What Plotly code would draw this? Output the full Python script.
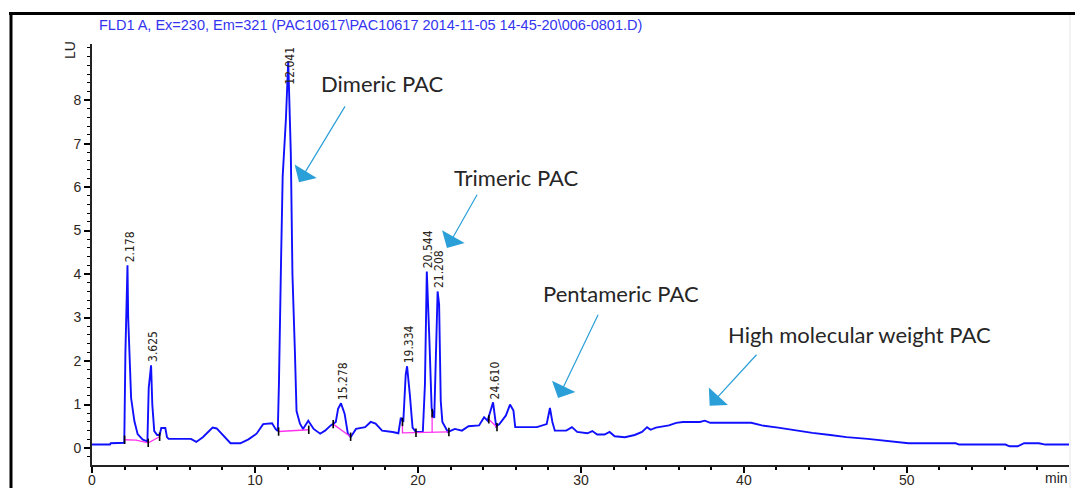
import plotly.graph_objects as go

# ---------------- data ----------------
time_min = [0, 1.1, 1.15, 1.98, 2.05, 2.178, 2.22, 2.3, 2.4, 2.6, 2.8, 3.1, 3.4, 3.48, 3.56, 3.625,
            3.7, 3.82, 4.0, 4.15, 4.25, 4.5, 4.6, 4.7, 6.07, 6.4, 6.8, 7.4, 7.65, 8.0, 8.5, 9.1,
            9.6, 10.1, 10.5, 11.05, 11.26, 11.4, 11.47, 11.6, 11.7, 11.9, 12.041, 12.2, 12.3,
            12.45, 12.55, 12.76, 12.95, 13.27, 13.6, 14.0, 14.3, 14.65, 14.96, 15.1, 15.278,
            15.5, 15.7, 15.87, 16.2, 16.76, 17.1, 17.4, 17.8, 18.45, 18.8, 18.95, 19.1, 19.25,
            19.334, 19.5, 19.67, 19.88, 20.3, 20.43, 20.5, 20.544, 20.7, 20.84, 21.0, 21.1,
            21.208, 21.3, 21.4, 21.5, 21.7, 21.84, 22.27, 22.7, 23.1, 23.75, 24.06, 24.27,
            24.45, 24.61, 24.8, 25.0, 25.4, 25.65, 25.86, 25.97, 27.3, 27.9, 28.1, 28.25, 28.4,
            29.1, 29.45, 29.77, 30.4, 30.7, 31.0, 31.45, 31.76, 32.07, 32.7, 33.3, 33.75, 34.06,
            34.27, 34.6, 35.4, 35.85, 36.26, 37.3, 37.6, 37.94, 40.45, 41.1, 42.1, 43.2, 44.2,
            45.3, 46.3, 47.6, 48.4, 49.2, 50.1, 53.0, 53.2, 56.05, 56.3, 56.8, 57.2, 58.1, 58.5,
            60.0]
signal_lu = [0.08, 0.08, 0.11, 0.12, 2.2, 4.2, 3.0, 2.0, 1.15, 0.62, 0.32, 0.2, 0.15, 1.38, 1.6, 1.9,
             1.0, 0.39, 0.3, 0.3, 0.46, 0.46, 0.25, 0.21, 0.21, 0.14, 0.25, 0.47, 0.45, 0.3, 0.11, 0.11,
             0.2, 0.33, 0.55, 0.57, 0.44, 0.39, 1.47, 4.29, 6.24, 7.57, 8.9, 6.77, 3.99,
             2.22, 0.85, 0.56, 0.44, 0.63, 0.44, 0.33, 0.4, 0.52, 0.6, 0.9, 1.03,
             0.79, 0.33, 0.25, 0.44, 0.48, 0.6, 0.56, 0.4, 0.37, 0.34, 0.7, 0.6, 1.69,
             1.88, 1.24, 0.47, 0.37, 0.37, 1.47, 3.21, 4.06, 2.52, 0.92, 0.69, 2.22,
             3.6, 3.3, 1.08, 0.6, 0.46, 0.37, 0.44, 0.4, 0.5, 0.52, 0.71, 0.63,
             0.85, 1.05, 0.5, 0.55, 0.75, 1.0, 0.86, 0.48, 0.48, 0.55, 0.92, 0.6, 0.4,
             0.4, 0.48, 0.37, 0.34, 0.39, 0.31, 0.31, 0.37, 0.27, 0.25, 0.3, 0.37, 0.48,
             0.42, 0.47, 0.52, 0.58, 0.6, 0.6, 0.63, 0.58, 0.58, 0.52, 0.47, 0.4, 0.35,
             0.3, 0.25, 0.21, 0.18, 0.14, 0.11, 0.11, 0.08, 0.08, 0.04, 0.04, 0.11, 0.11, 0.08,
             0.08]

# integration baselines (magenta)
baseline_t = [2.0, 2.7, 3.45, 4.15, None, 11.45, 12.4, 13.3, None, 14.8, 15.87, None,
              19.05, 19.05, 21.9, None, 20.87, 20.87, None, 24.35, 24.85]
baseline_y = [0.19, 0.18, 0.12, 0.26, None, 0.38, 0.40, 0.42, None, 0.55, 0.26, None,
              0.60, 0.35, 0.37, None, 0.35, 0.80, None, 0.66, 0.48]

# integration event marks (black ticks)
event_t = [2.0, 3.45, 4.15, 11.45, 13.3, 14.8, 15.87, 19.05, 19.88, 20.87, 21.9, 24.35, 24.85]
event_y = [0.19, 0.12, 0.26, 0.38, 0.42, 0.55, 0.26, 0.60, 0.35, 0.80, 0.37, 0.66, 0.48]

# labelled peaks
peak_rt = [2.178, 3.625, 12.041, 15.278, 19.334, 20.544, 21.208, 24.610]
peak_height = [4.2, 1.9, 8.9, 1.03, 1.88, 4.06, 3.6, 1.05]
peak_text = ["2.178", "3.625", "12.041", "15.278", "19.334", "20.544", "21.208", "24.610"]

# callouts
callout_text = ["Dimeric PAC", "Trimeric PAC", "Pentameric PAC", "High molecular weight PAC"]

x_ticks = [0, 10, 20, 30, 40, 50]
y_ticks = [0, 1, 2, 3, 4, 5, 6, 7, 8]

title_text = "FLD1 A, Ex=230, Em=321 (PAC10617\\PAC10617 2014-11-05 14-45-20\\006-0801.D)"

# ---------------- figure ----------------
X_RANGE = [0, 59.95]
Y_RANGE = [-0.39, 9.29]

fig = go.Figure()
fig.add_trace(go.Scatter(x=time_min, y=signal_lu, mode="lines",
                         line=dict(color="#1010ff", width=1.9), hoverinfo="skip"))
fig.add_trace(go.Scatter(x=baseline_t, y=baseline_y, mode="lines",
                         line=dict(color="#ff33ee", width=1.3), hoverinfo="skip"))
fig.add_trace(go.Scatter(x=event_t, y=event_y, mode="markers",
                         marker=dict(symbol="line-ns", size=6, line=dict(color="black", width=1.6)),
                         hoverinfo="skip"))

annotations = []
label_len = 0.85  # label length in y units (approx)
for rt, h, txt in zip(peak_rt, peak_height, peak_text):
    base = min(h, Y_RANGE[1] - label_len - 0.15)
    annotations.append(dict(x=rt, y=base, xref="x", yref="y", text=txt, showarrow=False,
                            textangle=-90, xanchor="center", yanchor="bottom", xshift=2, yshift=1,
                            font=dict(family="Liberation Sans Narrow, Arial Narrow, DejaVu Sans Condensed",
                                      size=12, color="#2a2418")))

callout_pos = [(17.85, 8.39), (26.07, 6.23), (32.45, 3.56), (47.1, 2.6)]
arrow_tail = [(15.58, 7.89), (23.68, 5.86), (31.1, 3.1), (40.86, 2.18)]
arrow_tip = [(12.7, 6.11), (21.78, 4.6), (28.6, 1.15), (37.9, 0.97)]
for txt, (cx, cy), (tx, ty), (hx, hy) in zip(callout_text, callout_pos, arrow_tail, arrow_tip):
    annotations.append(dict(x=cx, y=cy, xref="x", yref="y", text=txt, showarrow=False,
                            xanchor="center", yanchor="middle",
                            font=dict(family="Lato, Open Sans, sans-serif", size=22, color="#262626")))
    annotations.append(dict(x=hx, y=hy, xref="x", yref="y", ax=tx, ay=ty, axref="x", ayref="y",
                            text="", showarrow=True, arrowhead=1, arrowsize=3.6, arrowwidth=1.2,
                            arrowcolor="#2a9fd8", standoff=0))

W, H = 1075, 488
ML, MR, MT, MB = 92, 6, 44, 23
pw, ph = W - ML - MR, H - MT - MB


def px(x):
    return (x - ML) / pw


def py(y):
    return (H - MB - y) / ph


# title, unit labels
annotations.append(dict(x=px(97), y=py(25), xref="paper", yref="paper", text=title_text,
                        showarrow=False, xanchor="left", yanchor="middle",
                        font=dict(family="Liberation Sans, Arial, sans-serif", size=14.5, color="#3434f0")))
annotations.append(dict(x=px(70), y=py(50), xref="paper", yref="paper", text="LU",
                        showarrow=False, textangle=-90, xanchor="center", yanchor="middle",
                        font=dict(family="Liberation Sans, Arial, sans-serif", size=14, color="#222")))
annotations.append(dict(x=59.2, y=py(478), xref="x", yref="paper", text="min", showarrow=False,
                        xanchor="center", yanchor="middle",
                        font=dict(family="Liberation Sans, Arial, sans-serif", size=14, color="#222")))

shapes = [
    dict(type="line", xref="paper", yref="paper", x0=px(9), x1=px(1075), y0=py(13.5), y1=py(13.5),
         line=dict(color="black", width=3)),
    dict(type="line", xref="paper", yref="paper", x0=px(11), x1=px(11), y0=py(12), y1=py(488),
         line=dict(color="black", width=3)),
    dict(type="line", xref="paper", yref="paper", x0=px(1070), x1=px(1070), y0=py(15), y1=py(488),
         line=dict(color="#e4e4e4", width=1)),
]

tickfont = dict(family="Liberation Sans, Arial, sans-serif", size=14, color="#2e2620")
fig.update_layout(
    width=W, height=H, margin=dict(l=ML, r=MR, t=MT, b=MB, autoexpand=False),
    paper_bgcolor="white", plot_bgcolor="white", showlegend=False,
    annotations=annotations, shapes=shapes,
    xaxis=dict(range=X_RANGE, tickvals=x_ticks, ticks="outside", ticklen=6, tickwidth=1.5,
               tickcolor="black", showline=True, linecolor="#222", linewidth=2, showgrid=False,
               zeroline=False, tickfont=tickfont, automargin=False, ticklabelstandoff=-5,
               minor=dict(dtick=2, tick0=0, ticks="outside", ticklen=3, tickwidth=1.5,
                          tickcolor="black", showgrid=False)),
    yaxis=dict(range=Y_RANGE, tickvals=y_ticks, ticks="outside", ticklen=6, tickwidth=1.5,
               tickcolor="black", showline=True, linecolor="#222", linewidth=2, showgrid=False,
               zeroline=False, tickfont=tickfont, automargin=False,
               minor=dict(dtick=0.2, tick0=0, ticks="outside", ticklen=3, tickwidth=1.2,
                          tickcolor="black", showgrid=False)),
)

fig.write_html("out.html", config={"displayModeBar": False},
               post_script="document.body.style.margin='0';document.body.style.overflow='hidden';")
